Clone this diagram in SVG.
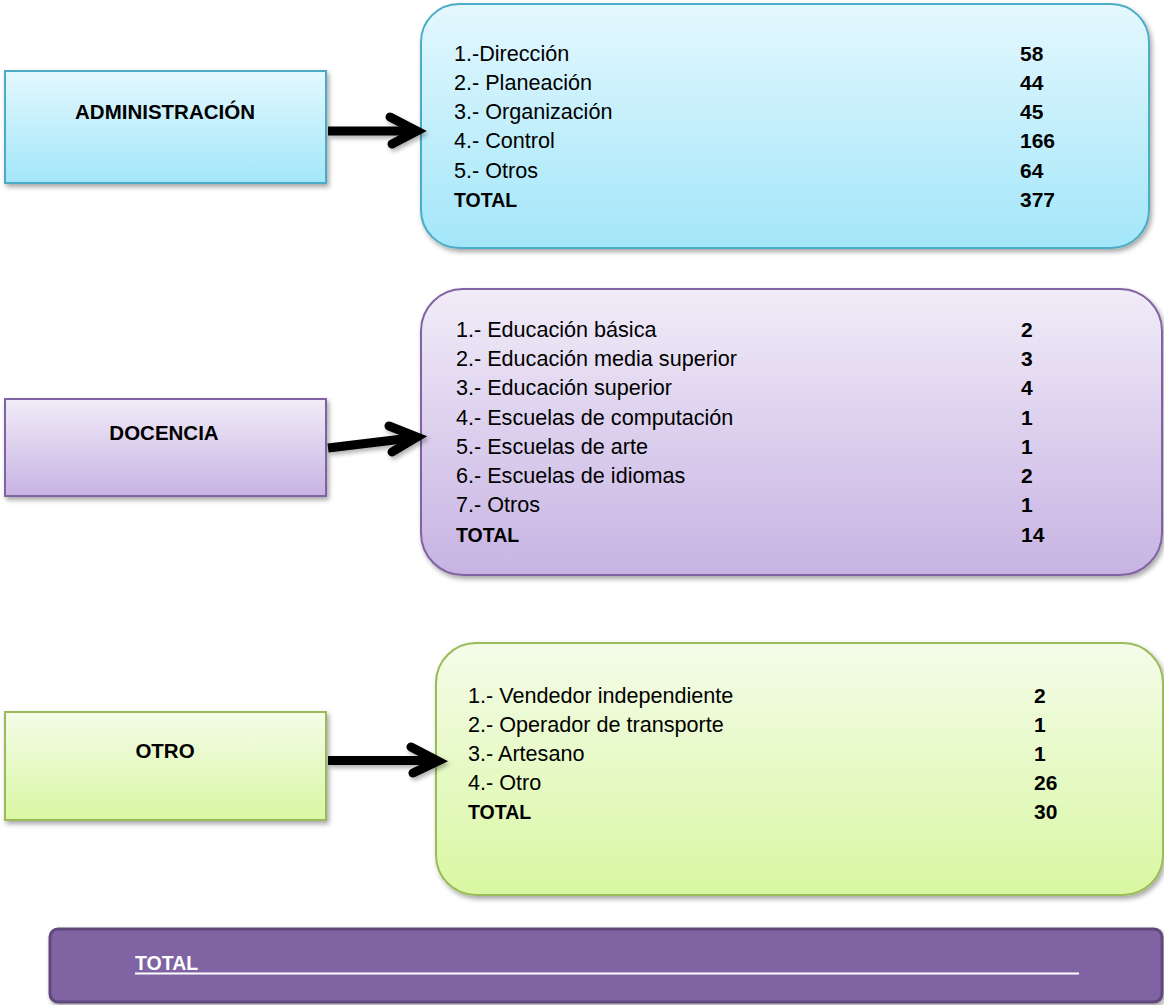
<svg xmlns="http://www.w3.org/2000/svg" width="1164" height="1005" viewBox="0 0 1164 1005">
<defs>
<linearGradient id="gBlue" x1="0" y1="0" x2="0" y2="1"><stop offset="0" stop-color="#e4f8fe"/><stop offset="1" stop-color="#a3e6f9"/></linearGradient>
<linearGradient id="gPurple" x1="0" y1="0" x2="0" y2="1"><stop offset="0" stop-color="#f1ecf8"/><stop offset="1" stop-color="#c7b3e3"/></linearGradient>
<linearGradient id="gGreen" x1="0" y1="0" x2="0" y2="1"><stop offset="0" stop-color="#f4fce9"/><stop offset="1" stop-color="#d9f7a2"/></linearGradient>
<filter id="sh" x="-5%" y="-5%" width="112%" height="115%"><feDropShadow dx="2" dy="3" stdDeviation="2.5" flood-color="#000" flood-opacity="0.35"/></filter>
<filter id="ash" x="-10%" y="-20%" width="130%" height="160%"><feDropShadow dx="2" dy="3" stdDeviation="2" flood-color="#000" flood-opacity="0.3"/></filter>
</defs>
<style>
text{font-family:"Liberation Sans",Arial,sans-serif;fill:#000}
.lbl{font-size:20.5px;font-weight:bold;text-anchor:middle}
.it{font-size:21.6px}
.num{font-size:21px;font-weight:bold}
.tot{font-size:19.5px;font-weight:bold}
.blue{fill:url(#gBlue);stroke:#4bacc6;stroke-width:2}
.purple{fill:url(#gPurple);stroke:#8064a2;stroke-width:2}
.green{fill:url(#gGreen);stroke:#9bbb59;stroke-width:2}
.arr{fill:none;stroke:#000;stroke-width:9;stroke-linecap:round;stroke-linejoin:miter}
</style>
<rect width="1164" height="1005" fill="#fff"/>
<g id="node-administracion">
<rect class="blue" x="5" y="71" width="321" height="112" filter="url(#sh)"/>
<text class="lbl" x="165" y="119">ADMINISTRACIÓN</text>
</g>
<g id="node-admin-list">
<rect class="blue" x="421" y="4" width="728" height="244" rx="38" filter="url(#sh)"/>
<text class="it" x="454" y="61">1.-Dirección</text>
<text class="it" x="454" y="90">2.- Planeación</text>
<text class="it" x="454" y="119">3.- Organización</text>
<text class="it" x="454" y="148">4.- Control</text>
<text class="it" x="454" y="178">5.- Otros</text>
<text class="tot" x="454" y="207">TOTAL</text>
<text class="num" x="1020" y="61">58</text>
<text class="num" x="1020" y="90">44</text>
<text class="num" x="1020" y="119">45</text>
<text class="num" x="1020" y="148">166</text>
<text class="num" x="1020" y="178">64</text>
<text class="num" x="1020" y="207">377</text>
</g>
<g id="node-docencia">
<rect class="purple" x="5" y="399" width="321" height="97" filter="url(#sh)"/>
<text class="lbl" x="164" y="440">DOCENCIA</text>
</g>
<g id="node-docencia-list">
<rect class="purple" x="421" y="289" width="741" height="286" rx="42" filter="url(#sh)"/>
<text class="it" x="456" y="337">1.- Educación básica</text>
<text class="it" x="456" y="366">2.- Educación media superior</text>
<text class="it" x="456" y="395">3.- Educación superior</text>
<text class="it" x="456" y="425">4.- Escuelas de computación</text>
<text class="it" x="456" y="454">5.- Escuelas de arte</text>
<text class="it" x="456" y="483">6.- Escuelas de idiomas</text>
<text class="it" x="456" y="512">7.- Otros</text>
<text class="tot" x="456" y="542">TOTAL</text>
<text class="num" x="1021" y="337">2</text>
<text class="num" x="1021" y="366">3</text>
<text class="num" x="1021" y="395">4</text>
<text class="num" x="1021" y="425">1</text>
<text class="num" x="1021" y="454">1</text>
<text class="num" x="1021" y="483">2</text>
<text class="num" x="1021" y="512">1</text>
<text class="num" x="1021" y="542">14</text>
</g>
<g id="node-otro">
<rect class="green" x="5" y="712" width="321" height="108" filter="url(#sh)"/>
<text class="lbl" x="165" y="758">OTRO</text>
</g>
<g id="node-otro-list">
<rect class="green" x="436" y="643" width="727" height="252" rx="40" filter="url(#sh)"/>
<text class="it" x="468" y="703">1.- Vendedor independiente</text>
<text class="it" x="468" y="732">2.- Operador de transporte</text>
<text class="it" x="468" y="761">3.- Artesano</text>
<text class="it" x="468" y="790">4.- Otro</text>
<text class="tot" x="468" y="819">TOTAL</text>
<text class="num" x="1034" y="703">2</text>
<text class="num" x="1034" y="732">1</text>
<text class="num" x="1034" y="761">1</text>
<text class="num" x="1034" y="790">26</text>
<text class="num" x="1034" y="819">30</text>
</g>
<g id="connectors" filter="url(#ash)">
<line class="arr" x1="328" y1="131" x2="415" y2="131" style="stroke-linecap:butt"/>
<polyline class="arr" points="390,117 417,131 392,144"/>
<line class="arr" x1="328" y1="448" x2="415" y2="437.5" style="stroke-linecap:butt"/>
<polyline class="arr" points="389,426 417,437 392,452"/>
<line class="arr" x1="328" y1="760.5" x2="436" y2="760.5" style="stroke-linecap:butt"/>
<polyline class="arr" points="411,747 438,761 413,773"/>
</g>
<g id="node-total">
<rect x="50" y="929" width="1112" height="73" rx="8" fill="#8064a2" stroke="#5f497a" stroke-width="3" filter="url(#sh)"/>
<text class="tot" x="135" y="970" style="fill:#fff">TOTAL</text>
<line x1="135" y1="973.5" x2="1079" y2="973.5" stroke="#fff" stroke-width="2"/>
</g>
</svg>
